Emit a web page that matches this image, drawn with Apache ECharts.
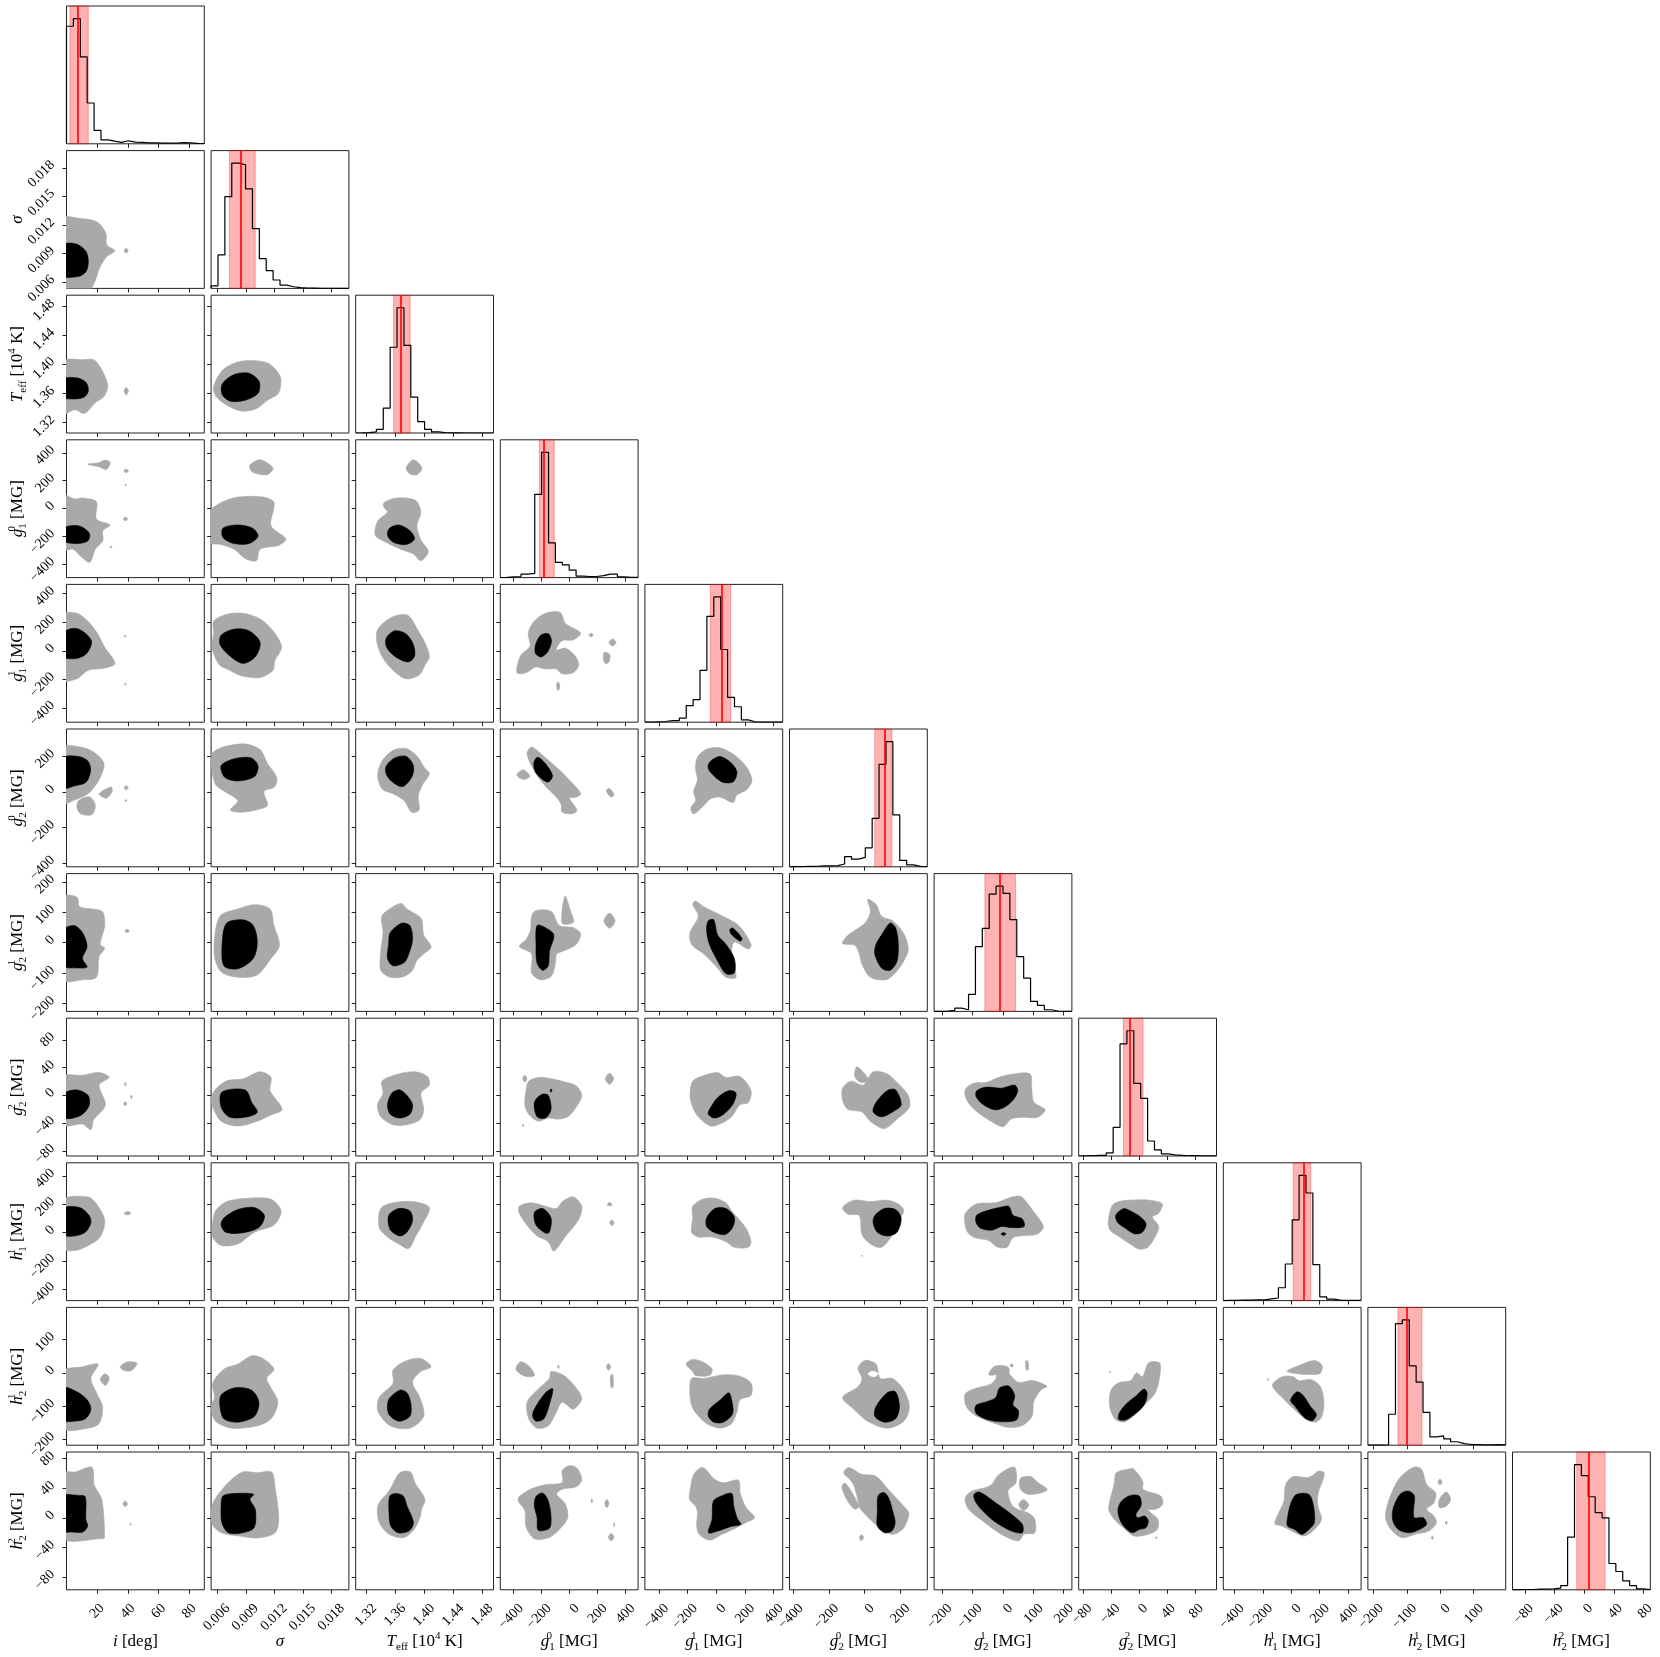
<!DOCTYPE html>
<html>
<head>
<meta charset="utf-8">
<title>corner plot</title>
<script src="https://cdn.jsdelivr.net/npm/echarts@6/dist/echarts.min.js"></script>
<style>
html, body { margin: 0; padding: 0; background: #fff; }
#chart { width: 1660px; height: 1657px; }
</style>
</head>
<body>
<div id="chart"></div>
<script>
// parameter order: i, sigma, Teff, g10, g11, g20, g21, g22, h11, h21, h22
const paramRanges = [
  [0, 89.8], [0.00536, 0.0198], [1.3057, 1.4954], [-495, 493], [-498, 465],
  [-422, 354], [-226, 227], [-87, 111], [-478, 492], [-217, 196], [-97, 89]
];
const tickValues = [
  [20, 40, 60, 80],
  [0.006, 0.009, 0.012, 0.015, 0.018],
  [1.32, 1.36, 1.40, 1.44, 1.48],
  [-400, -200, 0, 200, 400],
  [-400, -200, 0, 200, 400],
  [-400, -200, 0, 200],
  [-200, -100, 0, 100, 200],
  [-80, -40, 0, 40, 80],
  [-400, -200, 0, 200, 400],
  [-200, -100, 0, 100],
  [-80, -40, 0, 40, 80]
];
const axisNames = [
  '{it|i} [deg]',
  '{it|σ}',
  '{it|T}{sub|eff} [10{sup|4} K]',
  '{it|g}{sup0|0}{sub|1} [MG]',
  '{it|g}{sup0|1}{sub|1} [MG]',
  '{it|g}{sup0|0}{sub|2} [MG]',
  '{it|g}{sup0|1}{sub|2} [MG]',
  '{it|g}{sup0|2}{sub|2} [MG]',
  '{it|h}{sup0|1}{sub|1} [MG]',
  '{it|h}{sup0|1}{sub|2} [MG]',
  '{it|h}{sup0|2}{sub|2} [MG]'
];

// 20-bin marginal histograms (relative counts)
const hist_i = [0.85, 0.906, 0.628, 0.295, 0.097, 0.029, 0.019, 0.01, 0.022, 0.012, 0.01, 0.007, 0.006, 0.005, 0.005, 0.005, 0.008, 0.006, 0.003, 0.002];
const hist_sigma = [0.019, 0.243, 0.667, 0.91, 0.898, 0.723, 0.434, 0.216, 0.129, 0.061, 0.024, 0.012, 0.005, 0.003, 0.002, 0.001, 0.001, 0.001, 0, 0];
const hist_teff = [0.001, 0.003, 0.008, 0.027, 0.18, 0.623, 0.91, 0.637, 0.26, 0.082, 0.027, 0.008, 0.003, 0.001, 0.001, 0, 0, 0, 0, 0];
const hist_g10 = [0.001, 0.005, 0.008, 0.025, 0.03, 0.605, 0.91, 0.252, 0.11, 0.093, 0.055, 0.011, 0.008, 0.008, 0.014, 0.025, 0.025, 0.005, 0.002, 0.001];
const hist_g11 = [0.001, 0.003, 0.005, 0.012, 0.012, 0.03, 0.12, 0.163, 0.376, 0.767, 0.908, 0.527, 0.18, 0.112, 0.017, 0.003, 0.001, 0.001, 0.001, 0.001];
const hist_g20 = [0.001, 0.002, 0.003, 0.004, 0.006, 0.006, 0.008, 0.02, 0.074, 0.055, 0.068, 0.137, 0.35, 0.74, 0.905, 0.375, 0.047, 0.014, 0.003, 0.001];
const hist_g21 = [0.001, 0.002, 0.007, 0.024, 0.012, 0.124, 0.473, 0.607, 0.857, 0.915, 0.862, 0.67, 0.4, 0.243, 0.073, 0.044, 0.012, 0.003, 0.001, 0.001];
const hist_g22 = [0.001, 0.002, 0.005, 0.005, 0.022, 0.208, 0.814, 0.91, 0.527, 0.418, 0.109, 0.044, 0.016, 0.008, 0.005, 0.002, 0.002, 0.001, 0.001, 0.001];
const hist_h11 = [0.001, 0.002, 0.003, 0.004, 0.005, 0.005, 0.012, 0.019, 0.093, 0.265, 0.585, 0.907, 0.779, 0.26, 0.027, 0.011, 0.004, 0.002, 0.001, 0.001];
const hist_h21 = [0, 0, 0.002, 0.224, 0.88, 0.907, 0.574, 0.456, 0.238, 0.06, 0.068, 0.046, 0.025, 0.011, 0.005, 0.004, 0.003, 0.003, 0.004, 0.002];
const hist_h22 = [0.001, 0.002, 0.002, 0.005, 0.005, 0.007, 0.012, 0.031, 0.383, 0.91, 0.83, 0.676, 0.56, 0.523, 0.191, 0.133, 0.065, 0.031, 0.007, 0.002];

// [16th percentile, median, 84th percentile]
const bands = [
  [2.2, 7.2, 14.2], [0.00728, 0.00847, 0.00998], [1.3579, 1.3683, 1.3807],
  [-215, -186, -108], [-41, 36, 101], [58, 117, 155], [-59, -9, 42],
  [-22.8, -13, 5.5], [14, 86, 137], [-127, -101, -55], [-10.3, 5.7, 28]
];

// 2D credible regions per row (y parameter), one entry per column (x parameter)
const shapes_sigma = [
  { gray: [[[-2,0.01272],[7.6,0.01272],[19.6,0.01236],[25.7,0.01114],[26.2,0.00992],[31.5,0.00932],[26.2,0.00868],[21.9,0.00764],[18.5,0.00607],[15,0.0052],[-2,0.0052]],
           [[37.6,0.00932],[38.9,0.00958],[40.2,0.00932],[38.9,0.00906]]],
    black: [[[-2,0.00992],[6.6,0.01],[12.7,0.00922],[14.2,0.00816],[12.7,0.00711],[7.6,0.0066],[-2,0.0067]]] }
];
const shapes_teff = [
  { gray: [[[-2,1.404],[10.4,1.4066],[18.8,1.4053],[26.8,1.3732],[24.8,1.357],[18.8,1.3474],[11.6,1.3326],[5.6,1.3378],[-2,1.3326]],
           [[37.5,1.3636],[38.9,1.3685],[40.3,1.3636],[38.9,1.358]]],
    black: [[[-2,1.3797],[6.8,1.3816],[12.8,1.3751],[14.2,1.3636],[11.6,1.3552],[5.6,1.3526],[-2,1.3552]]] },
  { gray: [[[0.00563,1.37],[0.0066,1.3926],[0.00816,1.4034],[0.00991,1.4053],[0.01145,1.401],[0.01262,1.3829],[0.01242,1.3603],[0.01127,1.3507],[0.0101,1.3391],[0.00854,1.3359],[0.00699,1.3442],[0.00582,1.3571]]],
    black: [[[0.00653,1.3732],[0.00777,1.3861],[0.00932,1.388],[0.0104,1.3765],[0.01028,1.3603],[0.00893,1.3507],[0.00738,1.3495],[0.00653,1.3584]]] }
];
const shapes_g10 = [
  { gray: [[[-2,93],[5.6,69],[10.4,76],[19.5,49],[19.5,-74],[28.4,-118],[23.7,-158],[23.7,-231],[18.8,-291],[15.2,-385],[9.2,-342],[4.3,-291],[-2,-297]],
           [[14,318],[21,328],[25,348],[28.5,330],[26,280],[21,300]],
           [[37.4,270],[38.9,283],[40.4,270],[38.9,257]],
           [[38,169],[38.6,175],[39.2,169],[38.6,163]],
           [[37,-74],[38.4,-60],[39.8,-74],[38.4,-88]],
           [[28.3,-275],[29,-268],[29.7,-275],[29,-282]]],
    black: [[[-2,-141],[7.9,-124],[14.8,-175],[14,-231],[6.8,-251],[-2,-231]]] },
  { gray: [[[0.0052,-25],[0.00641,42],[0.00816,82],[0.01088,82],[0.01196,42],[0.01164,-124],[0.0132,-218],[0.01242,-265],[0.01049,-291],[0.0101,-374],[0.00893,-358],[0.00777,-291],[0.00641,-258],[0.0052,-241]],
           [[0.0094,309],[0.01049,350],[0.01184,292],[0.01127,243],[0.00971,260]]],
    black: [[[0.0066,-141],[0.00816,-118],[0.00971,-141],[0.01028,-198],[0.00932,-251],[0.00777,-251],[0.0066,-207]]] },
  { gray: [[[1.3444,42],[1.3622,76],[1.3878,59],[1.3954,-25],[1.3899,-124],[1.3954,-224],[1.4057,-308],[1.3954,-374],[1.3852,-325],[1.3674,-291],[1.3471,-241],[1.3326,-192],[1.3359,-91],[1.3495,-25],[1.3444,9]],
           [[1.3751,292],[1.3852,350],[1.3969,292],[1.3903,243],[1.3801,249]]],
    black: [[[1.3522,-141],[1.3649,-118],[1.3801,-158],[1.3867,-218],[1.3751,-258],[1.3573,-241],[1.3495,-192]]] }
];
const shapes_g11 = [
  { gray: [[[-2,256],[6.8,263],[14,207],[20,125],[24.8,28],[31.6,-87],[24.8,-120],[14,-136],[6.8,-195],[-2,-201]],
           [[37.6,103],[38.2,110],[38.8,103],[38.2,96]],
           [[37.7,-233],[38.3,-226],[38.9,-233],[38.3,-240]]],
    black: [[[-2,125],[5.6,158],[12.8,119],[16.4,61],[12.8,-21],[5.6,-54],[-2,-38]]] },
  { gray: [[[0.00563,207],[0.00699,256],[0.00874,263],[0.01049,223],[0.01184,141],[0.01274,28],[0.01203,-70],[0.01184,-136],[0.01049,-185],[0.00854,-174],[0.00715,-129],[0.00621,-96],[0.00543,28],[0.00563,125]]],
    black: [[[0.00641,110],[0.00777,152],[0.00932,141],[0.01049,61],[0.01002,-38],[0.00874,-87],[0.00738,-38],[0.0063,44]]] },
  { gray: [[[1.3368,158],[1.3573,240],[1.3776,249],[1.3918,141],[1.4006,61],[1.4072,-38],[1.4006,-103],[1.393,-169],[1.3751,-195],[1.3573,-136],[1.3419,-38],[1.3343,77]]],
    black: [[[1.348,93],[1.3598,141],[1.3751,119],[1.3852,44],[1.3867,-38],[1.3776,-77],[1.3598,-38],[1.348,28]]] },
  { gray: [[[-376,-152],[-350,-34],[-283,33],[-295,125],[-255,204],[-175,262],[-67,270],[-27,191],[81,125],[28,77],[-53,72],[-94,6],[-27,19],[41,-34],[67,-99],[28,-152],[-53,-160],[-94,-126],[-175,-126],[-242,-113],[-309,-152]],
           [[141,111],[156,124],[171,111],[156,98]],
           [[285,59],[310,84],[335,59],[310,34]],
           [[250,-10],[290,-25],[285,-75],[260,-90],[245,-60]],
           [[-90,-225],[-75,-220],[-70,-265],[-85,-275]]],
    black: [[[-242,45],[-202,112],[-148,119],[-128,66],[-156,-7],[-202,-42],[-242,-20]]] }
];
const shapes_g20 = [
  { gray: [[[-2,252],[9.2,252],[17.6,225],[24.4,160],[21.2,68],[14,-11],[5.6,-45],[-2,-63]],
           [[7.9,-49],[15.2,-29],[18.8,-76],[16.4,-129],[9.2,-123],[6.8,-89]],
           [[21.2,-11],[29.2,28],[29.7,2],[26.1,-36]],
           [[37.6,23],[38.9,35],[40.2,23],[38.9,11]],
           [[38.1,-49],[38.7,-43],[39.3,-49],[38.7,-55]]],
    black: [[[-2,191],[7.9,199],[14,173],[15.7,121],[12.8,55],[5.6,34],[-2,23]]] },
  { gray: [[[0.00543,213],[0.0066,252],[0.00893,270],[0.01049,238],[0.01127,160],[0.01223,82],[0.01203,29],[0.0109,2],[0.01127,-76],[0.0101,-102],[0.00854,-115],[0.00738,-102],[0.00816,-50],[0.00679,2],[0.00582,42],[0.00543,134]]],
    black: [[[0.00641,147],[0.00777,186],[0.00952,192],[0.01028,147],[0.00991,86],[0.00816,61],[0.00679,82]]] },
  { gray: [[[1.342,173],[1.3573,234],[1.3751,244],[1.3903,200],[1.4006,134],[1.4072,103],[1.398,42],[1.3918,-23],[1.393,-102],[1.3827,-115],[1.3725,-50],[1.3573,-11],[1.342,16],[1.3359,95]]],
    black: [[[1.348,147],[1.3598,192],[1.3751,200],[1.3852,147],[1.3827,82],[1.37,29],[1.3546,61],[1.3471,107]]] },
  { gray: [[[-301,227],[-269,252],[-175,195],[-80,130],[14,56],[81,-8],[54,-29],[0,-35],[41,-82],[54,-108],[14,-124],[-53,-114],[-59,-71],[-94,-29],[-175,35],[-228,89],[-275,152],[-301,205]],
           [[-376,95],[-330,124],[-283,88],[-330,70]],
           [[265,5],[285,20],[320,-15],[300,-30]]],
    black: [[[-255,162],[-228,195],[-175,162],[-121,92],[-148,56],[-188,67],[-242,110]]] },
  { gray: [[[-131,195],[-65,241],[27,248],[132,205],[211,141],[250,67],[216,14],[145,-18],[118,-60],[27,-29],[-39,-39],[-92,-82],[-157,-124],[-178,-92],[-144,-50],[-157,3],[-131,67],[-144,130]]],
    black: [[[-39,173],[27,199],[106,162],[145,110],[118,56],[40,56],[-39,110],[-57,141]]] }
];
const shapes_g21 = [
  { gray: [[[-2,150],[6.8,150],[8.6,118],[23.1,103],[24.9,56],[22,-6],[24.9,-18],[21.3,-45],[19.5,-114],[10.4,-122],[-2,-122]],
           [[38,38],[39.4,44],[41,38],[39.4,33]]],
    black: [[[-2,41],[5,56],[10.4,33],[13.4,-13],[10.4,-52],[13.4,-80],[6.8,-83],[-2,-76]]] },
  { gray: [[[0.00641,91],[0.00816,111],[0.00991,125],[0.01153,111],[0.01195,56],[0.01252,-9],[0.01164,-52],[0.0102,-106],[0.00816,-114],[0.00641,-96],[0.00571,-44],[0.00582,41]]],
    black: [[[0.00699,64],[0.00874,75],[0.00978,56],[0.0102,2],[0.00978,-52],[0.00816,-86],[0.0067,-76],[0.00653,2]]] },
  { gray: [[[1.3417,87],[1.3571,118],[1.3687,129],[1.3763,111],[1.3956,80],[1.3994,25],[1.4095,-14],[1.3994,-37],[1.3894,-60],[1.384,-91],[1.3725,-111],[1.3533,-114],[1.3402,-91],[1.3402,-29],[1.3433,33]]],
    black: [[[1.3533,33],[1.3687,64],[1.3803,56],[1.384,10],[1.3787,-37],[1.3725,-65],[1.3571,-76],[1.3495,-52],[1.351,-6]]] },
  { gray: [[[-271,87],[-239,106],[-131,103],[-71,56],[29,49],[81,29],[49,-6],[-51,-29],[-91,-37],[-103,-76],[-131,-111],[-211,-122],[-271,-99],[-271,-37],[-359,-13],[-311,10],[-279,41]],
           [[-51,64],[-31,153],[9,103],[29,67]],
           [[248,72],[288,97],[328,72],[288,47]]],
    black: [[[-231,56],[-171,49],[-111,25],[-143,-29],[-151,-76],[-191,-91],[-231,-68],[-239,-6]]] },
  { gray: [[[-145,137],[-87,118],[30,91],[158,56],[244,-6],[224,-21],[127,2],[108,-44],[139,-114],[69,-114],[10,-83],[-87,-37],[-172,-6],[-183,33],[-125,87],[-164,126]]],
    black: [[[-55,72],[-17,75],[10,25],[69,-6],[127,-52],[127,-99],[69,-102],[10,-60],[-47,-6],[-67,41]],
            [[95,42],[115,48],[180,15],[170,5],[110,25]]] },
  { gray: [[[18,142],[65,126],[96,87],[159,72],[222,29],[247,-21],[222,-60],[175,-99],[121,-122],[34,-114],[-14,-71],[-29,-37],[-54,-9],[-123,-3],[-92,25],[3,64],[34,103]]],
    black: [[[96,25],[144,64],[175,49],[190,2],[184,-60],[144,-91],[96,-83],[58,-37],[65,-6]]] }
];
const shapes_g22 = [
  { gray: [[[-2,27],[10.4,29],[21.3,33],[27.8,26],[21.3,15],[25.3,-14],[17.7,-35],[15.9,-49],[10.4,-41],[-2,-42]],
           [[37.7,16],[38.3,18.5],[38.9,16],[38.3,13.5]],
           [[41.7,-2],[42.3,0.5],[42.9,-2],[42.3,-4.5]],
           [[37.3,-12],[38.3,-9],[39.3,-12],[38.3,-15]]],
    black: [[[-2,1.5],[6.8,8],[14.1,0],[14.8,-14],[10.4,-27],[3.2,-33],[-2,-31]]] },
  { gray: [[[0.00571,7],[0.00699,21],[0.00874,24],[0.01049,34],[0.01164,26],[0.01153,7],[0.01281,-20],[0.01164,-28],[0.0102,-37],[0.00816,-44],[0.00641,-37],[0.00553,-17],[0.00536,-7]]],
    black: [[[0.00641,3.5],[0.00757,9],[0.00903,7],[0.00961,-10],[0.0102,-24],[0.00903,-31],[0.00728,-31],[0.00641,-17]]] },
  { gray: [[[1.3417,20.5],[1.3649,31],[1.3878,34],[1.4047,27],[1.407,15],[1.3956,3.5],[1.3994,-20],[1.3941,-35],[1.3763,-42],[1.3571,-42],[1.3402,-30.6],[1.3357,-13.5],[1.3433,3.5]]],
    black: [[[1.3556,3.5],[1.3664,8],[1.3763,0],[1.384,-13.5],[1.3803,-27],[1.3664,-32.5],[1.3533,-27],[1.3495,-13.5]]] },
  { gray: [[[-291,20.5],[-211,26],[-131,24],[-51,20.5],[49,13.8],[89,0],[49,-17],[-11,-30.6],[-79,-34],[-151,-32.5],[-223,-37],[-291,-27],[-319,-13.5],[-311,7]],
           [[-334,24],[-319,29],[-304,24],[-319,19]],
           [[258,24],[288,32],[318,24],[288,16]],
           [[-336,-43],[-331,-41],[-326,-43],[-331,-45]]],
    black: [[[-251,-10],[-199,1.5],[-151,0],[-131,-20],[-171,-32.5],[-231,-30.6]],
            [[-137,7],[-131,9.5],[-125,7],[-131,4.5]]] },
  { gray: [[[-164,20.5],[-87,28.6],[10,32.8],[69,25.9],[166,27.2],[244,6.9],[224,-10.2],[166,-13.5],[108,-30.6],[30,-40.7],[-40,-44],[-125,-30.6],[-164,-17],[-183,0]]],
    black: [[[-47,-20.3],[10,-3.2],[88,6.9],[139,3.5],[115,-13.5],[50,-27.2],[-9,-32.5],[-55,-27.2]]] },
  { gray: [[[-123,10.2],[-77,20.5],[-5,15],[49,34],[128,31],[190,17],[247,0],[253,-17],[184,-34],[112,-47.6],[34,-37.3],[-14,-23.6],[-92,-20.3],[-123,-6.8]],
           [[-45,41],[-14,35.6],[27,20.5],[-23,19],[-54,27]]],
    black: [[[65,-10.2],[128,6.9],[175,8.2],[207,-13.5],[159,-23.6],[96,-30.6],[49,-23.6]]] },
  { gray: [[[-123,9.2],[-98,17.3],[-54,19],[-17,25.5],[20,29.8],[89,31],[95,9.2],[102,-9.6],[139,-20.5],[114,-31.4],[64,-31.4],[27,-34],[2,-44.8],[-30,-39.5],[-86,-23.2],[-110,-12.4],[-123,-1.5]]],
    black: [[[-86,6.7],[-54,12],[-4,10.4],[39,14.8],[49,6.7],[33,-7],[2,-17.7],[-29,-20.5],[-67,-12.4],[-88,-1.5]]] }
];
const shapes_h11 = [
  { gray: [[[-2,229],[14.1,252],[19.5,203],[24.9,87],[22,-30],[14.1,-90],[6.8,-123],[-2,-112]],
           [[37.5,137],[40,150],[42,137],[39.5,125]]],
    black: [[[-2,170],[8.6,177],[14.8,120],[15.9,70],[12.3,4],[5,-23],[-2,-13]]] },
  { gray: [[[0.00582,153],[0.00699,219],[0.00932,243],[0.01164,236],[0.0127,153],[0.01195,54],[0.00991,4],[0.00816,-79],[0.00641,-90],[0.00553,-30],[0.00553,70]]],
    black: [[[0.0067,103],[0.00816,163],[0.00991,177],[0.01095,120],[0.01037,37],[0.00845,-3],[0.00688,4],[0.00641,54]]] },
  { gray: [[[1.3402,170],[1.3571,210],[1.384,219],[1.407,177],[1.3971,54],[1.3878,-30],[1.3787,-112],[1.3649,-79],[1.3495,-30],[1.338,37]]],
    black: [[[1.351,120],[1.3649,170],[1.3803,153],[1.384,87],[1.3763,4],[1.3664,-23],[1.3533,21]]] },
  { gray: [[[-359,186],[-271,210],[-171,186],[-91,170],[-51,219],[29,252],[89,186],[69,96],[-31,-30],[-111,-129],[-151,-63],[-231,-23],[-291,37],[-359,137]],
           [[270,195],[292,215],[305,190]],
           [[290,70],[305,90],[320,70],[305,50]]],
    black: [[[-251,143],[-191,170],[-131,103],[-143,4],[-171,-3],[-239,54]]] },
  { gray: [[[-164,186],[-95,236],[-9,243],[69,210],[108,153],[205,37],[244,-63],[224,-103],[127,-103],[69,-63],[-28,-30],[-125,-30],[-172,4],[-164,103]]],
    black: [[[-67,103],[-9,170],[69,170],[127,110],[115,37],[62,-13],[-17,4],[-67,44]]] },
  { gray: [[[-123,177],[-60,229],[34,219],[128,229],[190,203],[222,153],[181,70],[159,-13],[96,-103],[34,-79],[-14,-13],[-29,120],[-92,130]],
           [[-18,-163],[-14,-159],[-10,-163],[-14,-167]]],
    black: [[[58,120],[112,170],[175,163],[207,103],[184,4],[128,-23],[72,4],[49,70]]] },
  { gray: [[[-123,137],[-86,203],[-23,211],[27,249],[58,256],[77,217],[96,163],[133,44],[114,-8.5],[64,-22],[33,-36],[14,-102],[-17,-102],[-48,-54],[-91,-36],[-116,4],[-125,71]]],
    black: [[[-86,123],[-48,158],[-11,177],[20,185],[33,123],[64,97],[70,44],[27,36],[-4,44],[-36,18],[-73,31],[-88,71]],
            [[-6,-9],[2,1],[10,-9],[2,-19]]] },
  { gray: [[[-44.6,71],[-39,190],[-28,221],[-9,230],[12.6,230],[33,203],[28,137],[19,111],[28,44],[23.5,-22],[12.6,-102],[-1,-115],[-14.7,-75],[-31,-22],[-41.9,18]]],
    black: [[[-33.7,123],[-22.8,169],[-12,151],[1.7,111],[9.8,62],[4.5,4],[-6.4,-8.5],[-20,31],[-31,71]]] }
];
const shapes_h21 = [
  { gray: [[[-2,4],[10.4,18],[20.6,26],[15.9,-17],[19.5,-60],[23.5,-102],[21.3,-152],[14.1,-166],[-2,-166]],
           [[22,-20],[25,-3],[27.8,-15],[25.5,-38]],
           [[35,18],[40,33],[46,28],[42,6],[37,8]]],
    black: [[[-2,-45],[6.8,-57],[13.4,-81],[15.9,-109],[12.3,-138],[5,-145],[-2,-142]]] },
  { gray: [[[0.00553,-31],[0.0067,11],[0.00816,26],[0.00961,51],[0.01078,43],[0.01195,11],[0.01118,-17],[0.01164,-45],[0.01235,-88],[0.01164,-138],[0.0102,-159],[0.00757,-166],[0.00582,-145],[0.00536,-102],[0.00571,-74]]],
    black: [[[0.00641,-67],[0.00786,-45],[0.00961,-52],[0.01037,-88],[0.00991,-130],[0.00816,-148],[0.0067,-138],[0.0063,-102]]] },
  { gray: [[[1.338,-74],[1.3571,-31],[1.3571,8.5],[1.3763,37],[1.3956,43],[1.4095,18.4],[1.3956,4.4],[1.384,-28],[1.3941,-74],[1.3994,-130],[1.3803,-166],[1.3533,-159],[1.3364,-116]]],
    black: [[[1.351,-81],[1.3664,-52],[1.3763,-60],[1.3818,-95],[1.3803,-130],[1.3649,-145],[1.351,-123]]] },
  { gray: [[[-303,-88],[-231,-52],[-143,-17],[-131,4],[-31,-10],[89,-74],[29,-109],[-51,-88],[-91,-116],[-151,-159],[-231,-166],[-291,-138]],
           [[-383,10],[-350,33],[-290,20],[-250,-8],[-320,-10]],
           [[-85,18],[-79,23],[-73,18],[-79,13]],
           [[266,18],[281,28],[296,18],[281,8]],
           [[295,-10],[310,-5],[315,-40],[300,-45]]],
    black: [[[-251,-109],[-171,-60],[-119,-48],[-143,-95],[-183,-138],[-239,-145],[-263,-130]]] },
  { gray: [[[-172,-17],[-87,-17],[-9,-10],[69,-5.5],[166,-10],[244,-31],[244,-67],[166,-81],[146,-116],[108,-152],[30,-166],[-67,-152],[-160,-109],[-183,-67]],
           [[-211,26],[-164,40],[-95,33],[-28,11],[-47,-8],[-145,-8],[-164,4]]],
    black: [[[-47,-109],[30,-81],[88,-60],[108,-81],[115,-123],[50,-148],[-17,-148],[-55,-130]]] },
  { gray: [[[-123,-74],[-36,-42],[-14,-17],[-36,14],[3,37],[65,26],[90,-17],[159,-17],[222,-52],[253,-102],[222,-145],[128,-166],[18,-145],[-60,-109]]],
    white: [[[20,-3],[45,5],[80,-3],[50,-12]]],
    black: [[[65,-102],[128,-60],[175,-57],[197,-102],[175,-138],[112,-148],[58,-130]]] },
  { gray: [[[-123,-62],[-86,-45.6],[-40,-34],[-23,-17],[-17,5],[15,0],[51,-28.7],[96,-23],[145,-40],[126,-51],[102,-85],[96,-130],[64,-158],[20,-164],[-23,-153],[-86,-130],[-116,-108],[-125,-85]],
           [[-46,-6],[-30,18],[0,22],[19,15],[19,-6],[-10,-4]],
           [[24,22],[29,27],[34,22],[29,17]],
           [[75,35],[82,35],[84,10],[77,8]]],
    black: [[[-86,-96],[-48,-85],[-23,-74],[-11,-45.6],[20,-40],[39,-68],[33,-96],[51,-113],[45,-141],[-4,-147],[-48,-141],[-86,-124],[-92,-108]]] },
  { gray: [[[-39,-45.6],[-28,-28.7],[-12,-23],[-3.8,0],[4.5,-11.7],[12.6,28],[20.7,34],[30,28],[28,-28.7],[22.3,-62.5],[12.6,-85],[-3.8,-118.7],[-20,-147],[-33.7,-141],[-41.9,-107.6],[-42.8,-73.7]],
           [[-43,3],[-41.9,5.5],[-40.8,3],[-41.9,0.5]]],
    black: [[[-28.2,-118.7],[-17.3,-90.6],[-3.8,-67.9],[7,-48.9],[11.4,-62.5],[7,-96.4],[-6.4,-124.5],[-20,-141.4],[-29.8,-139]]] },
  { gray: [[[-131,-34],[-64,-11.7],[16,-12],[56,-24],[137,-20],[203,-39.8],[230,-84.8],[217,-130],[177,-147],[110,-141.4],[16,-107.6],[-64,-73.7],[-117,-51]],
           [[-29,5],[56,22],[163,37],[217,22],[203,-2],[123,-5],[29,-2]],
           [[-167,-19.6],[-163,-16],[-159,-19.6],[-163,-23]]],
    black: [[[3,-73.7],[43,-56.8],[84,-67.9],[137,-101.8],[177,-124.5],[150,-143.5],[96,-135.6],[29,-101.8],[-3,-84.8]]] }
];
const shapes_h22 = [
  { gray: [[[-2,61],[5.6,62],[16.1,69],[17.7,61],[17.9,45],[23,25],[24.8,-27],[23,-28],[-2,-27]],
           [[36.8,19],[38.2,23],[39.8,19],[38.2,15]],
           [[41.2,-8.6],[41.8,-7.4],[42.4,-8.6],[41.8,-9.8]]],
    black: [[[-2,29.5],[7.9,30.4],[12.2,28.7],[12.6,-2],[13.8,-11],[10.7,-19],[3.2,-19],[-2,-17.8]]] },
  { gray: [[[0.00566,23],[0.00717,48],[0.00868,62],[0.01018,61],[0.0117,62],[0.01207,41],[0.01245,0],[0.01207,-20],[0.01018,-27],[0.00831,-24.5],[0.00641,-20],[0.00548,-8.6],[0.00536,7]]],
    black: [[[0.0066,29.5],[0.00773,33],[0.00981,32],[0.00943,25],[0.00999,11.6],[0.00988,-13],[0.00868,-20],[0.00717,-20],[0.00649,-6.4],[0.00641,16]]] },
  { gray: [[[1.3368,18.3],[1.3516,36.4],[1.3664,61],[1.3812,62],[1.3873,47.5],[1.4011,25],[1.3962,11.6],[1.395,2.5],[1.3861,-15.5],[1.3713,-26.7],[1.3516,-22],[1.3393,-8.6],[1.3359,2.5]]],
    black: [[[1.3526,29.5],[1.3615,33],[1.3713,29.5],[1.3763,16],[1.3852,-6.4],[1.3787,-17.8],[1.364,-20],[1.354,-11],[1.3516,7]]] },
  { gray: [[[-359,29],[-279,38.6],[-171,45],[-51,48],[-51,64],[1,70.6],[57,66.7],[89,51],[49,42],[-51,38.6],[-91,32],[-31,19.6],[-11,0.5],[-71,-15.5],[-151,-27],[-251,-28],[-311,-12],[-319,10],[-367,23]],
           [[156,23],[161,26],[166,23],[161,20]],
           [[254,19.6],[269,25],[284,19.6],[269,14]],
           [[317,-9],[321,-6],[325,-9],[321,-12]],
           [[280,-26],[300,-21],[320,-26],[300,-31]]],
    black: [[[-239,29],[-191,33.6],[-151,23],[-131,0.5],[-143,-14],[-223,-16.6],[-231,0.5],[-251,16.5]]] },
  { gray: [[[-181,38.6],[-156,59],[-94,68],[-9,52],[56,47.5],[156,51],[168,34],[206,15],[268,0.3],[206,-6.4],[118,-15.5],[41,-22],[-44,-30],[-119,-22],[-136,-11],[-131,7],[-144,16],[-186,25]]],
    black: [[[-19,22.8],[46,30.4],[109,33],[123,16],[148,-1],[173,-8.6],[99,-11.8],[10,-17.8],[-54,-20],[-29,-2]]] },
  { gray: [[[-117,61],[-87,68],[-17,59],[63,56.6],[134,38.6],[203,20.6],[248,7.9],[244,-2],[214,-15.5],[154,-22],[73,-11],[13,2.5],[-27,14],[-42,29.5],[-62,45],[-82,52]],
           [[-127,42],[-110,47],[-72,35],[-32,15],[-55,12],[-100,25]],
           [[-29,-26.7],[-17,-22.7],[-5,-26.7],[-17,-30.7]]],
    black: [[[83,32],[113,34],[140,25],[159,9],[173,-6.4],[154,-17.8],[113,-20],[73,-11],[73,9],[73,25]]] },
  { gray: [[[-124,27],[-101,36.4],[-59,40.8],[-36,45.3],[-18,56.6],[17,66.5],[40,68],[43,47.5],[17,36.4],[35,15],[87,6],[105,-2],[105,-20],[70,-22],[52,-31],[5,-24.5],[-59,-6.4],[-112,11.6]],
           [[58,53.5],[93,55.7],[116,47.5],[146,38.6],[128,34],[82,32],[58,38.6]],
           [[52,18],[68,25],[85,17],[68,10]]],
    black: [[[-95,31.7],[-77,34.9],[-24,20.6],[29,4.7],[64,-8.6],[64,-20],[29,-17.8],[-30,-4],[-71,11.6],[-91,22.8]]] },
  { gray: [[[-43.4,18.3],[-35.7,47.5],[-33.1,61],[-12.6,66.5],[-7.4,65.6],[5.3,49],[5.3,38.6],[31,29.5],[33.6,18.3],[23.3,11.6],[13,10.7],[26.9,-2],[25.9,-15.5],[13,-22],[-7.4,-24.5],[-22.8,-13.3],[-35.7,-2],[-43.4,9.2]],
           [[23,-26.7],[24.5,-25.5],[26,-26.7],[24.5,-27.9]]],
    black: [[[-30.6,11.6],[-25.4,22.8],[-12.6,30.4],[0.1,29.5],[2.7,17],[-4.8,4.7],[-2.3,0.3],[7.8,2.5],[13,-4.2],[9.4,-13.3],[0.1,-15.5],[-10,-20],[-20.3,-13.3],[-28,-2]]] },
  { gray: [[[-113,-4.2],[-88,7],[-51,22.8],[-39,45.3],[12,55.7],[113,54.4],[151,57.6],[193,63.3],[234,60.2],[188,31.7],[188,16],[213,-2],[163,-15.5],[92,-24.5],[4,-17.8],[-64,-11],[-113,-8.6]]],
    black: [[[-26,0.3],[-1,20.6],[37,31.7],[125,31.7],[157,16],[163,-6.4],[125,-15.5],[75,-22.2],[24,-15.5],[-26,-11]]] },
  { gray: [[[-163,9.2],[-148,31.7],[-121,54.4],[-78,68.7],[-56,65.6],[-41,45.3],[-14,34],[-19,20.6],[-41,11.6],[-19,2.5],[-12,-7.3],[-35,-17.8],[-78,-22.2],[-115,-26.7],[-148,-15.5],[-163,-2]],
           [[-7,48.5],[-1,52.5],[5,48.5],[-1,44.5]],
           [[-3,25],[18,35],[31,25],[18,16],[-3,14]],
           [[15,-6.4],[18,-4],[21,-6.4],[18,-8.8]],
           [[-27,-26.7],[-24,-24.5],[-21,-26.7],[-24,-28.9]]],
    black: [[[-142,11.6],[-121,31.7],[-97,36.4],[-78,30.4],[-80,11.6],[-78,0.3],[-51,0.3],[-41,-8.6],[-62,-15.5],[-94,-20],[-126,-15.5],[-142,-4.2]]] }
];

const hists = [hist_i, hist_sigma, hist_teff, hist_g10, hist_g11, hist_g20, hist_g21, hist_g22, hist_h11, hist_h21, hist_h22];
const shapes = [null, shapes_sigma, shapes_teff, shapes_g10, shapes_g11, shapes_g20, shapes_g21, shapes_g22, shapes_h11, shapes_h21, shapes_h22];

const FONT = 'Liberation Serif';
const GRAY = '#a9a9a9';
const LEFT0 = 66.5, TOP0 = 6, STEP = 144.6, SIZE = 137.8;
// shift of the rotated bottom labels so they sit centred under their ticks
const xLabelPad = [0, 8, 5, 4, 4, 4, 4, 2, 4, 4, 2];

const richName = {
  it: { fontFamily: FONT, fontStyle: 'italic', fontSize: 17, color: '#000', lineHeight: 22 },
  sup: { fontFamily: FONT, fontSize: 11, color: '#000', verticalAlign: 'top', lineHeight: 12, align: 'left' },
  sup0: { fontFamily: FONT, fontSize: 11, color: '#000', verticalAlign: 'top', lineHeight: 12, width: 0.1, align: 'left' },
  sub: { fontFamily: FONT, fontSize: 11, color: '#000', verticalAlign: 'bottom', lineHeight: 12, align: 'left' }
};

function fmt(k, v) {
  let s;
  if (k === 1) s = v.toFixed(3);
  else if (k === 2) s = v.toFixed(2);
  else s = String(Math.round(v));
  return s.replace('-', '\u2212');
}

function makeAxis(k, p, dim, labelled) {
  const isX = dim === 'x';
  const pad = xLabelPad[k];
  return {
    gridIndex: p,
    type: 'value',
    position: isX ? 'bottom' : 'left',
    min: paramRanges[k][0],
    max: paramRanges[k][1],
    splitLine: { show: false },
    axisLine: { show: false, onZero: false },
    axisTick: { show: true, inside: false, length: 4, customValues: tickValues[k], lineStyle: { color: '#222', width: 1 } },
    axisLabel: {
      show: labelled, customValues: tickValues[k], rotate: 45,
      align: 'right',
      verticalAlign: isX ? 'top' : 'bottom',
      margin: isX ? 11.5 - 0.707 * pad : 9,
      padding: isX ? [pad, 0, 0, 0] : 0,
      fontFamily: FONT, fontSize: 14, color: '#000',
      formatter: function (v) { return fmt(k, v); }
    },
    name: labelled ? axisNames[k] : '',
    nameLocation: 'middle',
    nameGap: isX ? 41 : 38,
    nameRotate: isX ? 0 : 90,
    nameMoveOverlap: false,
    nameTextStyle: { fontFamily: FONT, fontSize: 17, color: '#000', lineHeight: 22, rich: richName }
  };
}

const option = { animation: false, backgroundColor: '#fff', grid: [], xAxis: [], yAxis: [], series: [] };

for (let r = 0; r < 11; r++) {
  for (let c = 0; c <= r; c++) {
    const p = option.grid.length;
    option.grid.push({
      left: LEFT0 + STEP * c, top: TOP0 + STEP * r, width: SIZE, height: SIZE,
      show: true, borderColor: '#222', borderWidth: 1, backgroundColor: 'rgba(0,0,0,0)',
      containLabel: false, outerBoundsMode: 'none'
    });
    option.xAxis.push(makeAxis(c, p, 'x', r === 10));

    if (r === c) {
      const h = hists[r];
      const lo = paramRanges[r][0], hi = paramRanges[r][1];
      const w = (hi - lo) / h.length;
      const pts = [[lo, 0]];
      h.forEach(function (v, k) { pts.push([lo + k * w, v]); });
      pts.push([hi, h[h.length - 1]]);
      pts.push([hi, 0]);
      option.yAxis.push({ gridIndex: p, type: 'value', min: 0, max: 1.1 * Math.max.apply(null, h), show: false, axisLine: { onZero: false } });
      option.series.push({
        type: 'line', xAxisIndex: p, yAxisIndex: p, step: 'end', symbol: 'none', silent: true,
        data: pts,
        lineStyle: { color: '#000', width: 1.2 },
        markArea: {
          silent: true,
          itemStyle: { color: 'rgba(255,0,0,0.3)', borderColor: 'rgba(255,0,0,0.3)', borderWidth: 1 },
          data: [[{ xAxis: bands[r][0] }, { xAxis: bands[r][2] }]]
        },
        markLine: {
          silent: true, symbol: ['none', 'none'], label: { show: false }, precision: 8,
          lineStyle: { color: '#ff0000', width: 1.6, type: 'solid' },
          data: [{ xAxis: bands[r][1] }]
        }
      });
    } else {
      option.yAxis.push(makeAxis(r, p, 'y', c === 0));
      const s = shapes[r][c];
      const items = [];
      (s.gray || []).forEach(function (q) { items.push({ fill: GRAY, pts: q }); });
      (s.white || []).forEach(function (q) { items.push({ fill: '#fff', pts: q }); });
      (s.black || []).forEach(function (q) { items.push({ fill: '#000', pts: q }); });
      option.series.push({
        type: 'custom', xAxisIndex: p, yAxisIndex: p, clip: true, silent: true,
        data: items.map(function (it) { return it.pts[0]; }),
        renderItem: function (params, api) {
          const it = items[params.dataIndex];
          return {
            type: 'polygon',
            shape: { points: it.pts.map(function (q) { return api.coord(q); }), smooth: 0.3 },
            style: { fill: it.fill, stroke: it.fill, lineWidth: 0.6 }
          };
        }
      });
    }
  }
}

const chart = echarts.init(document.getElementById('chart'), null, { renderer: 'canvas' });
chart.setOption(option);
</script>
</body>
</html>
